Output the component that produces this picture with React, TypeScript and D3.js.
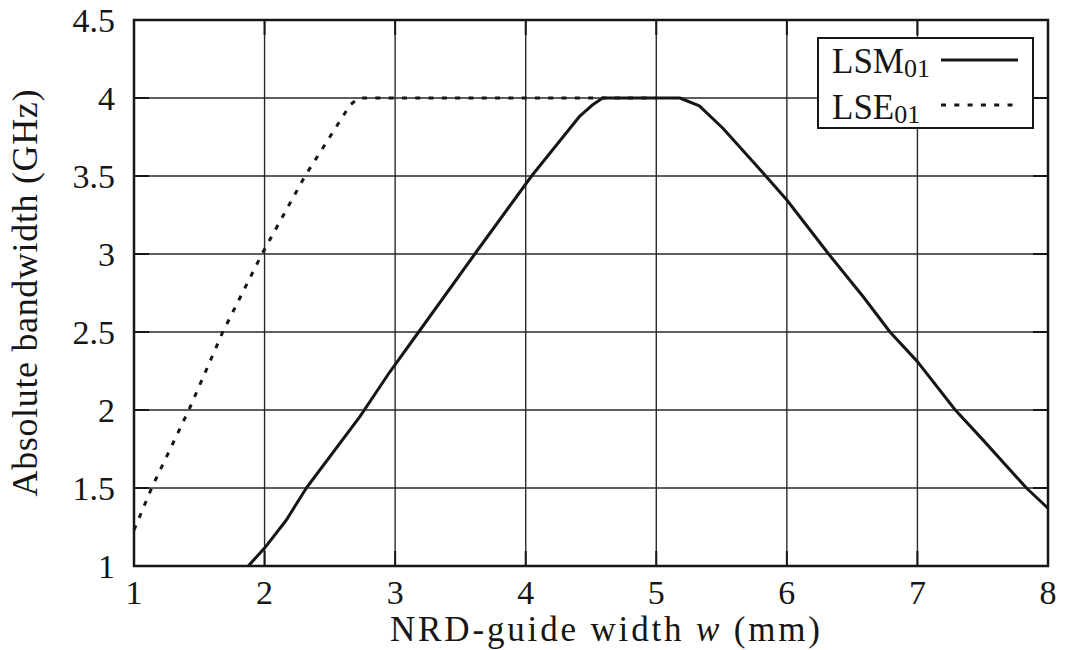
import React from "react";
import * as d3 from "d3";

// LSM01 mode: absolute bandwidth (GHz) versus guide width w (mm)
const lsmWidth = [1.875, 2.0, 2.167, 2.32, 2.73, 2.96, 3.18, 3.61, 4.045, 4.41, 4.51, 4.59, 5.18, 5.33, 5.51, 5.82, 6.0, 6.2, 6.32, 6.585, 6.79, 7.0, 7.29, 7.5, 7.835, 8.0];
const lsmBandwidth = [1.0, 1.115, 1.295, 1.5, 1.957, 2.245, 2.5, 3.0, 3.5, 3.88, 3.955, 4.0, 4.0, 3.95, 3.806, 3.517, 3.346, 3.13, 3.0, 2.726, 2.5, 2.31, 2.0, 1.81, 1.5, 1.37];

// LSE01 mode
const lseWidth = [1.0, 1.135, 1.42, 1.68, 1.98, 2.31, 2.655, 2.72, 5.0];
const lseBandwidth = [1.23, 1.5, 2.0, 2.5, 3.0, 3.5, 3.955, 4.0, 4.0];

const xTicks = [1, 2, 3, 4, 5, 6, 7, 8];
const yTicks = [1, 1.5, 2, 2.5, 3, 3.5, 4, 4.5];

const W = 1068;
const H = 650;
const left = 134;
const right = 1048;
const top = 20;
const bottom = 566;
const FONT = "Liberation Serif";
const INK = "#161616";

export default function App() {
  const x = d3.scaleLinear().domain([1, 8]).range([left, right]);
  const y = d3.scaleLinear().domain([1, 4.5]).range([bottom, top]);

  const line = d3
    .line<[number, number]>()
    .x((d) => x(d[0]))
    .y((d) => y(d[1]));

  const lsm = lsmWidth.map((w, i) => [w, lsmBandwidth[i]] as [number, number]);
  const lse = lseWidth.map((w, i) => [w, lseBandwidth[i]] as [number, number]);

  const tickLen = 15;
  const legend = { x0: 818, x1: 1033, y0: 38, y1: 128 };

  return (
    <svg
      width={W}
      height={H}
      viewBox={`0 0 ${W} ${H}`}
      style={{ position: "absolute", left: 0, top: 0, background: "#fff" }}
    >
      <rect x={0} y={0} width={W} height={H} fill="#fff" />

      {/* grid */}
      <g stroke="#2a2a2a" strokeWidth={1.4}>
        {xTicks.slice(1, -1).map((t) => (
          <line key={`gx${t}`} x1={x(t)} x2={x(t)} y1={top} y2={bottom} />
        ))}
        {yTicks.slice(1, -1).map((t) => (
          <line key={`gy${t}`} x1={left} x2={right} y1={y(t)} y2={y(t)} />
        ))}
      </g>

      {/* inward ticks on all four sides */}
      <g stroke={INK} strokeWidth={2}>
        {xTicks.map((t) => (
          <g key={`tx${t}`}>
            <line x1={x(t)} x2={x(t)} y1={bottom} y2={bottom - tickLen} />
            <line x1={x(t)} x2={x(t)} y1={top} y2={top + tickLen} />
          </g>
        ))}
        {yTicks.map((t) => (
          <g key={`ty${t}`}>
            <line x1={left} x2={left + tickLen} y1={y(t)} y2={y(t)} />
            <line x1={right} x2={right - tickLen} y1={y(t)} y2={y(t)} />
          </g>
        ))}
      </g>

      {/* curves */}
      <path
        d={line(lse) || ""}
        fill="none"
        stroke={INK}
        strokeWidth={3}
        strokeDasharray="5 8.3"
      />
      <path d={line(lsm) || ""} fill="none" stroke={INK} strokeWidth={3} strokeLinejoin="round" />

      {/* frame */}
      <rect
        x={left}
        y={top}
        width={right - left}
        height={bottom - top}
        fill="none"
        stroke={INK}
        strokeWidth={2.5}
      />

      {/* tick labels */}
      <g fontFamily={FONT} fontSize={34} fill={INK}>
        {xTicks.map((t) => (
          <text key={`lx${t}`} x={x(t)} y={bottom + 38} textAnchor="middle">
            {t}
          </text>
        ))}
        {yTicks.map((t) => (
          <text key={`ly${t}`} x={left - 19} y={y(t) + 12} textAnchor="end">
            {t}
          </text>
        ))}
      </g>

      {/* axis titles */}
      <text
        x={605}
        y={641}
        textAnchor="middle"
        fontFamily={FONT}
        fontSize={35}
        fill={INK}
        textLength={430}
        lengthAdjust="spacing"
      >
        NRD-guide width <tspan fontStyle="italic">w</tspan> (mm)
      </text>
      <text
        transform={`translate(37, ${(top + bottom) / 2}) rotate(-90)`}
        textAnchor="middle"
        fontFamily={FONT}
        fontSize={36}
        fill={INK}
        textLength={407}
        lengthAdjust="spacing"
      >
        Absolute bandwidth (GHz)
      </text>

      {/* legend */}
      <rect
        x={legend.x0}
        y={legend.y0}
        width={legend.x1 - legend.x0}
        height={legend.y1 - legend.y0}
        fill="#fff"
        stroke={INK}
        strokeWidth={2}
      />
      <g fontFamily={FONT} fill={INK}>
        <text x={832} y={73} fontSize={35}>
          LSM
          <tspan fontSize={26} dy={4}>01</tspan>
        </text>
        <text x={832} y={119} fontSize={35}>
          LSE
          <tspan fontSize={26} dy={4}>01</tspan>
        </text>
      </g>
      <line x1={941} x2={1018} y1={60} y2={60} stroke={INK} strokeWidth={3} />
      <line
        x1={941}
        x2={1018}
        y1={105}
        y2={105}
        stroke={INK}
        strokeWidth={3}
        strokeDasharray="5 8.3"
      />
    </svg>
  );
}
